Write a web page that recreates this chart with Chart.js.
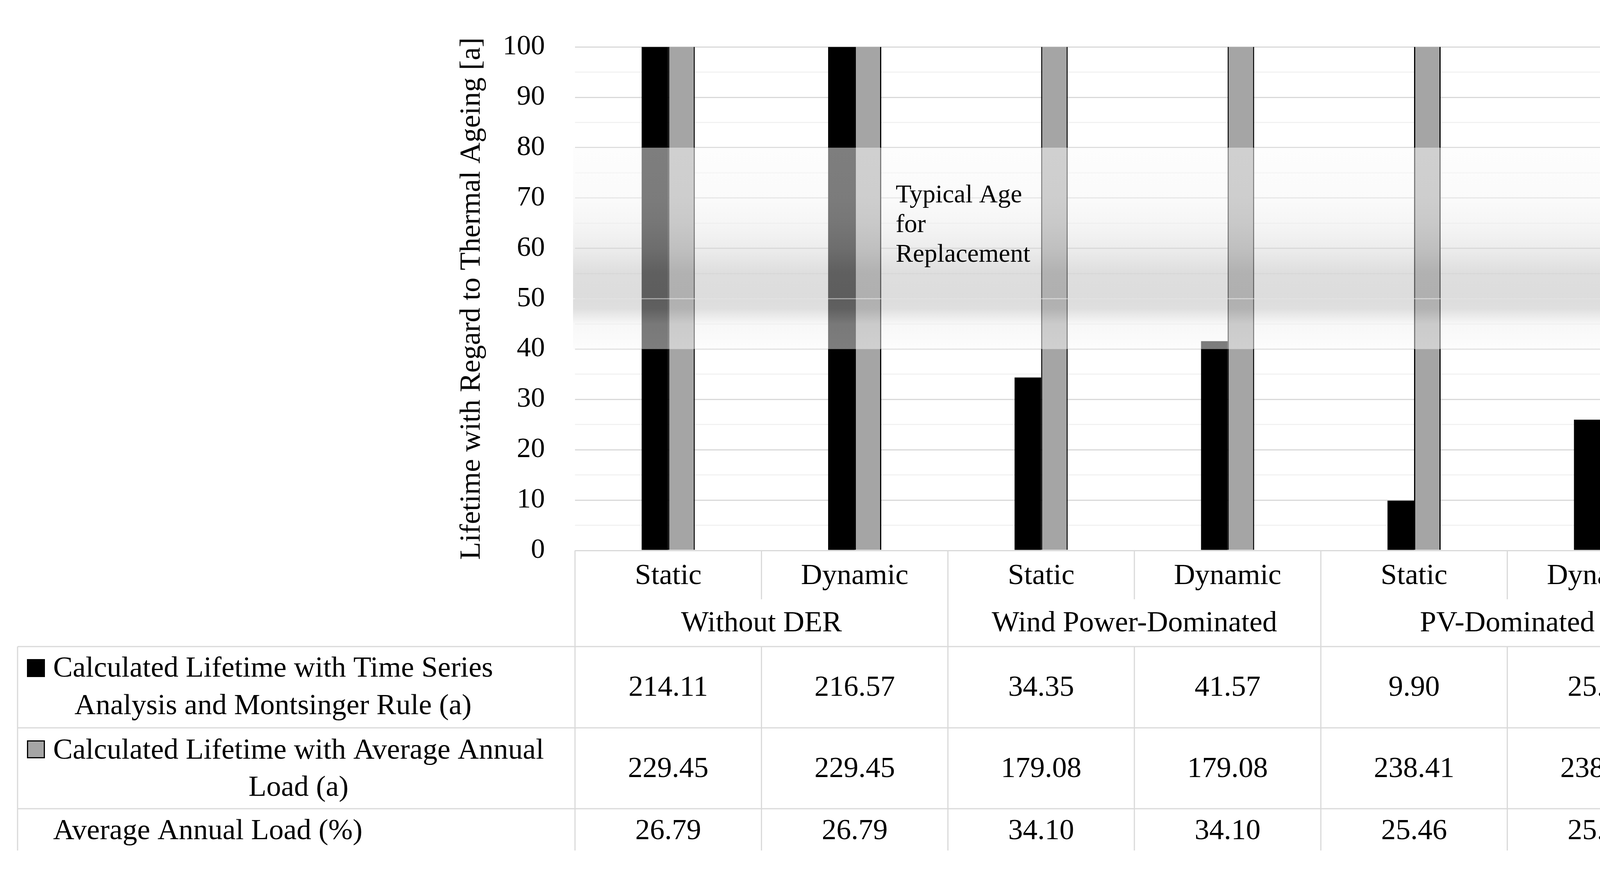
<!DOCTYPE html>
<html>
<head>
<meta charset="utf-8">
<script src="https://cdn.jsdelivr.net/npm/chart.js@4.4.0/dist/chart.umd.min.js"></script>
<style>
  html, body { margin: 0; padding: 0; background: #fff; }
  #wrap { width: 4408px; height: 2232px; }
</style>
</head>
<body>
<div id="wrap"><canvas id="lifetimeChart" width="4408" height="2232"></canvas></div>
<script>
const scenarios = ['Without DER', 'Wind Power-Dominated', 'PV-Dominated'];
const methods = ['Static', 'Dynamic', 'Static', 'Dynamic', 'Static', 'Dynamic'];
const lifeTimeSeries = [214.11, 216.57, 34.35, 41.57, 9.90, 25.98];
const lifeAvgLoad = [229.45, 229.45, 179.08, 179.08, 238.41, 238.41];
const avgAnnualLoad = [26.79, 26.79, 34.10, 34.10, 25.46, 25.46];
const replacementBand = [40, 80];
const bandLabel = ['Typical Age', 'for', 'Replacement'];
const yTitle = 'Lifetime with Regard to Thermal Ageing [a]';
const rowLabels = [
  ['Calculated Lifetime with Time Series', 'Analysis and Montsinger Rule (a)'],
  ['Calculated Lifetime with Average Annual', 'Load (a)'],
  ['Average Annual Load (%)']
];

const FONT = 'Liberation Serif';
const GRID = '#d9d9d9';
const BLACK = '#000000';
const GREY = '#a5a5a5';

Chart.defaults.font.family = FONT;
Chart.defaults.color = '#000';

/* Halb durchsichtiges Band 40..80 a, liegt über den Balken */
const bandPlugin = {
  id: 'replacementBand',
  afterDatasetsDraw(chart) {
    const { ctx, chartArea: a, scales: { y } } = chart;
    const yTop = y.getPixelForValue(replacementBand[1]);
    const yBot = y.getPixelForValue(replacementBand[0]);
    const h = yBot - yTop;
    const g = ctx.createLinearGradient(0, yTop, 0, yBot);
    [[0, 251], [0.25, 246], [0.375, 236], [0.5, 218], [0.62, 190], [0.75, 186],
     [0.8, 192], [0.875, 240], [1, 250]].forEach(([t, c]) => g.addColorStop(t, `rgba(${c},${c},${c},0.5)`));
    ctx.save();
    ctx.fillStyle = g;
    ctx.fillRect(a.left - 5, yTop, a.right - a.left + 18, h);
    ctx.fillStyle = 'rgba(255,255,255,0.45)';
    ctx.fillRect(a.left - 5, yTop + 0.75 * h - 1.5, a.right - a.left + 18, 3);

    ctx.fillStyle = '#000';
    ctx.font = `66px "${FONT}"`;
    ctx.textAlign = 'left';
    ctx.textBaseline = 'alphabetic';
    bandLabel.forEach((t, i) => ctx.fillText(t, a.left + 821, yTop + 140 + i * 76));
    ctx.restore();
  }
};

/* Datentabelle unter dem Diagramm (wie Excel-Datentabelle) */
const tablePlugin = {
  id: 'dataTable',
  afterDraw(chart) {
    const { ctx, chartArea: a, scales: { x } } = chart;
    const n = methods.length;
    const colW = (a.right - a.left) / n;
    const edge = i => a.left + i * colW;
    const top = a.bottom;
    const subBottom = top + 125, head = top + 246, r1 = top + 454, r2 = top + 661, end = top + 768;
    const tableLeft = 45, textLeft = 136;

    ctx.save();
    ctx.strokeStyle = GRID;
    ctx.lineWidth = 3;
    const line = (x1, y1, x2, y2) => { ctx.beginPath(); ctx.moveTo(x1, y1); ctx.lineTo(x2, y2); ctx.stroke(); };
    for (let i = 0; i <= n; i++) {
      const ex = edge(i);
      if (i % 2 === 0) line(ex, top, ex, end);
      else { line(ex, top, ex, subBottom); line(ex, head, ex, end); }
    }
    line(tableLeft, head, tableLeft, end);
    [head, r1, r2].forEach(yy => line(tableLeft, yy, a.right, yy));

    ctx.fillStyle = '#000';
    ctx.font = `75px "${FONT}"`;
    ctx.textBaseline = 'alphabetic';
    ctx.textAlign = 'center';
    methods.forEach((m, i) => ctx.fillText(m, x.getPixelForValue(i), top + 86));
    scenarios.forEach((s, g) => ctx.fillText(s, (edge(2 * g) + edge(2 * g + 2)) / 2, top + 207));

    const rows = [lifeTimeSeries, lifeAvgLoad, avgAnnualLoad];
    const valBase = [top + 372, top + 580, top + 739];
    rows.forEach((vals, r) => vals.forEach((v, i) => ctx.fillText(v.toFixed(2), x.getPixelForValue(i), valBase[r])));

    const lineBase = [[top + 323, top + 419], [top + 533, top + 628], [top + 739]];
    rowLabels.forEach((lines, r) => {
      const w = Math.max(...lines.map(t => ctx.measureText(t).width));
      const cx = textLeft + w / 2;
      lines.forEach((t, k) => ctx.fillText(t, cx, lineBase[r][k]));
    });

    // Legendenkästchen
    ctx.fillStyle = BLACK;
    ctx.fillRect(69, top + 278, 46, 46);
    ctx.fillStyle = GREY;
    ctx.fillRect(69, top + 486, 46, 46);
    ctx.strokeStyle = BLACK;
    ctx.lineWidth = 3;
    ctx.strokeRect(70.5, top + 487.5, 43, 43);
    ctx.restore();
  }
};

new Chart(document.getElementById('lifetimeChart'), {
  type: 'bar',
  data: {
    labels: methods,
    datasets: [
      { label: rowLabels[0].join(' '), data: lifeTimeSeries, backgroundColor: BLACK, borderWidth: 0 },
      { label: rowLabels[1].join(' '), data: lifeAvgLoad, backgroundColor: GREY, borderColor: BLACK, borderWidth: 3 }
    ]
  },
  options: {
    responsive: false,
    devicePixelRatio: 1,
    animation: false,
    layout: { padding: { top: 94, right: 72, bottom: 823, left: 0 } },
    datasets: { bar: { categoryPercentage: 0.285, barPercentage: 1, clip: 0 } },
    plugins: { legend: { display: false }, tooltip: { enabled: false } },
    scales: {
      x: { display: false },
      y: {
        min: 0,
        max: 100,
        afterFit: s => { s.width = 1472; },
        border: { display: false },
        grid: {
          color: c => (c.tick && c.tick.value % 10 === 0) ? GRID : '#f2f2f2',
          lineWidth: 3,
          drawTicks: false
        },
        ticks: {
          stepSize: 5,
          autoSkip: false,
          padding: 77,
          color: '#000',
          font: { size: 72 },
          callback: v => (v % 10 === 0 ? v : '')
        },
        title: {
          display: true,
          text: yTitle,
          color: '#000',
          font: { size: 75 },
          padding: { top: 1163, bottom: 0 }
        }
      }
    }
  },
  plugins: [bandPlugin, tablePlugin]
});
</script>
</body>
</html>
